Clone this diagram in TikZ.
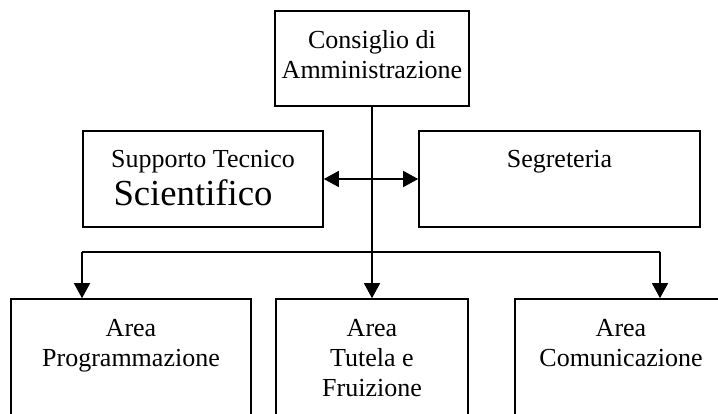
\documentclass[tikz,border=0pt]{standalone}
\usepackage{fontspec}
\setmainfont{Liberation Serif}
\usetikzlibrary{arrows.meta}
\begin{document}
\begin{tikzpicture}[x=1pt,y=-1pt,
  box/.style={draw=black, line width=1.6pt, inner sep=0pt, rectangle},
  lbl/.style={anchor=north, align=center, inner sep=0pt, font=\fontsize{26}{30}\selectfont},
  conn/.style={line width=1.3pt},
  tip/.style={-{Triangle[length=15pt,width=16pt]}},
  dtip/.style={{Triangle[length=15pt,width=16pt]}-{Triangle[length=15pt,width=16pt]}}]
\useasboundingbox (0,0) rectangle (718,414);
% boxes
\node[box, minimum width=194pt, minimum height=95pt] (cda) at (372,58.5) {};
\node[box, minimum width=240pt, minimum height=96pt] (sts) at (203,179) {};
\node[box, minimum width=281pt, minimum height=96pt] (seg) at (559.5,179) {};
\node[box, minimum width=240pt, minimum height=200pt] (prog) at (131,399) {};
\node[box, minimum width=192pt, minimum height=200pt] (tut) at (372,399) {};
\node[box, minimum width=212pt, minimum height=200pt] (com) at (621,399) {};
% texts
\node[lbl] (cdaT) at ([yshift=-20pt]cda.north) {Consiglio di\\Amministrazione};
\node[lbl] (stsT) at ([yshift=-20pt]sts.north) {Supporto Tecnico\\[6pt]{\fontsize{36.7}{40}\selectfont Scientifico\hspace*{20pt}}};
\node[lbl] (segT) at ([yshift=-20pt]seg.north) {Segreteria};
\node[lbl] (progT) at ([yshift=-21pt]prog.north) {Area\\Programmazione};
\node[lbl] (tutT) at ([yshift=-21pt]tut.north) {Area\\Tutela e\\Fruizione};
\node[lbl] (comT) at ([yshift=-21pt]com.north) {Area\\Comunicazione};
% connectors
\draw[conn,tip] (cda.south) -- (tut.north);
\draw[conn,dtip] (sts.east) -- (seg.west);
\coordinate (hl) at (82,252);
\coordinate (hr) at (660,252);
\draw[conn] (hl) -- (hr);
\draw[conn,tip] (hl) -- (hl |- prog.north);
\draw[conn,tip] (hr) -- (hr |- com.north);
\end{tikzpicture}
\end{document}
